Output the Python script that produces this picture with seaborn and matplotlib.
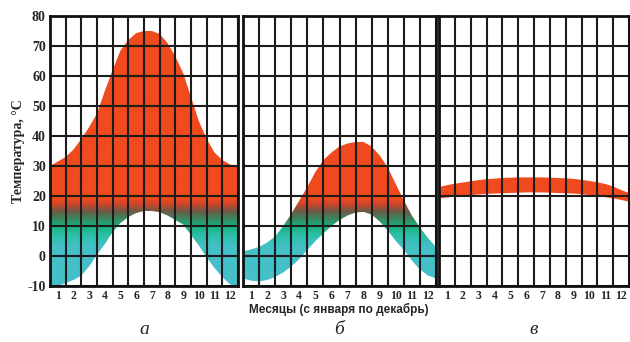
import numpy as np
import matplotlib
matplotlib.use("Agg")
import matplotlib.pyplot as plt
from matplotlib.colors import LinearSegmentedColormap
import seaborn as sns

# ---------- data ----------
x_pos = np.arange(0, 12.5, 0.5)

a_upper = [30, 31.5, 33, 35.5, 39, 43, 47.5, 55, 62, 68.5, 72, 74.3, 75,
           75, 74, 71, 66.5, 61, 53, 45, 39, 34.5, 32, 30.5, 30]
a_lower = [-10, -10, -9, -8, -6.5, -3.5, 0.5, 4, 8, 11, 13, 14.3, 15,
           15, 14.6, 13.5, 12, 10.5, 7, 3.5, -0.5, -4, -7, -9.5, -10]

b_upper = [1.5, 2.2, 3, 4.5, 6.5, 10, 14, 18.5, 23, 28, 32, 34.5, 36.5,
           37.5, 38, 38, 36.5, 33.5, 29.5, 24, 18.5, 13.5, 9.5, 6, 3]
b_lower = [-7.5, -8.2, -8.5, -8, -7, -5.5, -3.5, -1, 2, 5, 7.5, 10, 12,
           13.5, 14.5, 14.7, 13.8, 11.5, 8.5, 5, 2, -1.5, -4.5, -6.5, -7.5]

c_upper = [23, 23.6, 24.1, 24.5, 24.9, 25.3, 25.6, 25.8, 26, 26.1, 26.2, 26.2, 26.2,
           26.2, 26.1, 26, 25.9, 25.7, 25.4, 25, 24.6, 24, 23.2, 22, 21]
c_lower = [19.2, 19.5, 19.8, 20.1, 20.3, 20.5, 20.7, 20.8, 20.9, 21, 21.1, 21.2, 21.2,
           21.2, 21.1, 21, 20.9, 20.8, 20.6, 20.3, 20, 19.6, 19.2, 18.7, 18.1]

panels = [(a_upper, a_lower), (b_upper, b_lower), (c_upper, c_lower)]
panel_names = ["а", "б", "в"]
month_labels = [str(m) for m in range(1, 13)]
y_ticks = [80, 70, 60, 50, 40, 30, 20, 10, 0, -10]

# ---------- colours ----------
stops = [(-10, "#46bfcb"), (3, "#44c0c6"), (7, "#2cbea6"), (10, "#19ae7b"),
         (13, "#467a58"), (15, "#735844"), (17, "#c8462a"), (19, "#f04a1e"),
         (80, "#f04a1e")]
temp_cmap = LinearSegmentedColormap.from_list(
    "temp", [((t + 10) / 90, c) for t, c in stops])

sns.set_theme(style="white")
plt.rcParams["font.family"] = ["Liberation Serif", "DejaVu Serif"]

fig = plt.figure(figsize=(6.3, 3.42), dpi=100)
fig.patch.set_facecolor("white")

lefts = [50, 243, 439]
rights = [238, 436, 629]
bottom = (342 - 286) / 342
height = 270 / 342

grad = np.linspace(-10, 80, 600).reshape(-1, 1)

for i, (up, lo) in enumerate(panels):
    ax = fig.add_axes([lefts[i] / 630, bottom, (rights[i] - lefts[i]) / 630, height])
    ax.set_xlim(0, 12)
    ax.set_ylim(-10, 80)

    band = ax.fill_between(x_pos, lo, up, facecolor="none", edgecolor="none")
    img = ax.imshow(grad, cmap=temp_cmap, vmin=-10, vmax=80, origin="lower",
                    extent=[0, 12, -10, 80], aspect="auto", zorder=1)
    img.set_clip_path(band.get_paths()[0], transform=ax.transData)

    # thick black grid on top of the band
    for xv in range(0, 13):
        ax.axvline(xv, color="#1c1c1c", lw=1.5, zorder=3)
    for yv in y_ticks:
        ax.axhline(yv, color="#1c1c1c", lw=1.5, zorder=3)

    for s in ax.spines.values():
        s.set_color("#111111")
        s.set_linewidth(2)
        s.set_zorder(4)

    ax.set_xticks(np.arange(12) + 0.5)
    ax.set_xticklabels(month_labels, fontsize=8.5, fontweight="bold")
    ax.set_yticks(y_ticks)
    ax.tick_params(axis="x", length=0, pad=3)
    ax.tick_params(axis="y", direction="out", length=3, width=1.2, color="#111111", pad=0)
    if i == 0:
        ax.set_yticklabels([str(v) for v in y_ticks], fontsize=10, fontweight="bold")
        ax.set_ylabel("Температура, °C", fontsize=10, fontweight="bold", labelpad=2)
    else:
        ax.set_yticklabels([])

    cx = (lefts[i] + rights[i]) / 2 / 630
    fig.text(cx, 1 - 330 / 342, panel_names[i], ha="center", va="center",
             fontsize=14, fontstyle="italic")

fig.text(339 / 630, 1 - 309 / 342, "Месяцы (с января по декабрь)",
         ha="center", va="center", fontsize=8.5, fontweight="bold",
         family=["Liberation Sans", "DejaVu Sans"])

fig.savefig("out.png", dpi=100)
